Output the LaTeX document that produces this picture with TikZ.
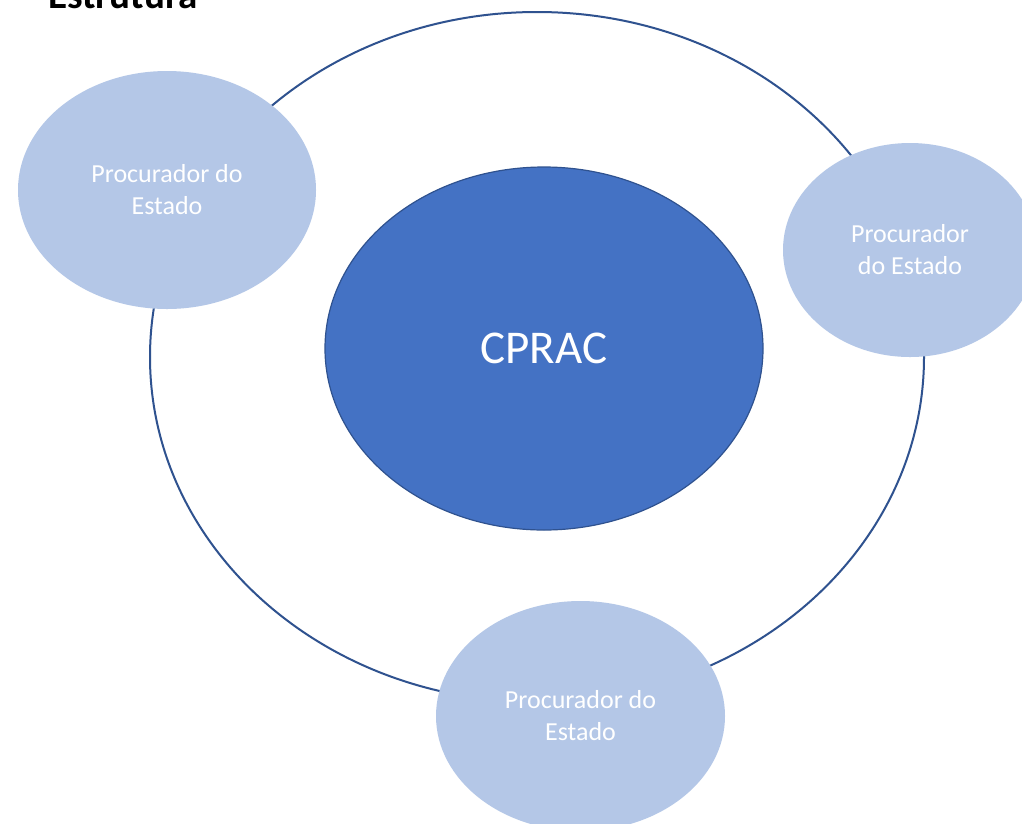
\documentclass[tikz,border=0pt]{standalone}
\usepackage{fontspec}
\setmainfont{Carlito}
\usetikzlibrary{shapes.geometric}
\definecolor{ringblue}{HTML}{2F528F}
\definecolor{coreblue}{HTML}{4472C4}
\definecolor{lightblue}{HTML}{B4C7E7}
\tikzset{
  member/.style={ellipse, fill=lightblue, draw=none, inner sep=0pt, text=white,
    align=center, font=\fontsize{26}{32}\selectfont},
  core/.style={ellipse, fill=coreblue, draw=ringblue, line width=1.2pt, inner sep=0pt,
    text=white, font=\fontsize{47}{56}\selectfont},
}
\begin{document}
\begin{tikzpicture}[x=1pt,y=-1pt]
\useasboundingbox (0,0) rectangle (1022,823);
\clip (0,0) rectangle (1022,823);
\fill[white] (0,0) rectangle (1022,823);
% title
\node[anchor=base west, inner sep=0pt, font=\fontsize{39}{46}\selectfont\bfseries] (title) at (48,8) {Estrutura};
% outer ring
\draw[ringblue, line width=2pt] (537,357) ellipse [x radius=387, y radius=345];
% centre
\node[core, minimum width=438pt, minimum height=363pt] (cprac) at (544,348.5) {CPRAC};
% members
\node[member, minimum width=298pt, minimum height=238pt] (m1) at (167,190) {Procurador do\\Estado};
\node[member, minimum width=254pt, minimum height=214pt] (m2) at (910,250) {Procurador\\do Estado};
\node[member, minimum width=289pt, minimum height=230pt] (m3) at (580.5,716) {Procurador do\\Estado};
\end{tikzpicture}
\end{document}
